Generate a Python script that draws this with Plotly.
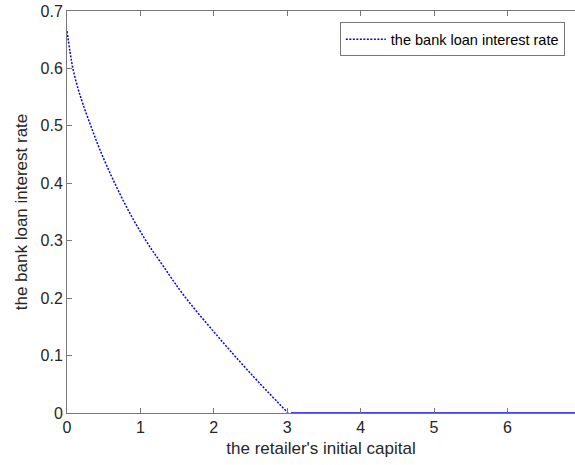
import plotly.graph_objects as go

# data
capital = [0, 0.04, 0.08, 0.15, 0.22, 0.33, 0.45, 0.64, 0.86, 1.09, 1.31, 1.59, 2.05, 2.5, 3.01]
rate = [0.665, 0.63, 0.60, 0.565, 0.537, 0.498, 0.458, 0.403, 0.347, 0.297, 0.256, 0.205, 0.134, 0.069, 0.0]
flat_capital = [3.05, 7.0]
flat_rate = [0.0, 0.0]

x_ticks = [0, 1, 2, 3, 4, 5, 6, 7]
y_ticks = [0, 0.1, 0.2, 0.3, 0.4, 0.5, 0.6, 0.7]

FONT = "Liberation Sans, Arial, sans-serif"
TXT = "#262626"
AX = "#777777"

fig = go.Figure()
fig.add_trace(go.Scatter(
    x=capital, y=rate, mode="lines", name="the bank loan interest rate",
    line=dict(color="blue", width=1.5, dash="2px,1.5px", shape="spline"),
))
fig.add_trace(go.Scatter(
    x=flat_capital, y=flat_rate, mode="lines", showlegend=False,
    line=dict(color="blue", width=1.5),
))

fig.update_layout(
    width=575, height=465,
    margin=dict(l=67, r=0, t=11, b=52),
    paper_bgcolor="white", plot_bgcolor="white",
    font=dict(family=FONT, size=16, color=TXT),
    legend=dict(
        x=0.98, y=0.972, xanchor="right", yanchor="top",
        bordercolor=AX, borderwidth=1, bgcolor="white",
        font=dict(size=14.5, color="black"),
        tracegroupgap=0, itemwidth=40,
    ),
    xaxis=dict(
        range=[0, 6.92], tickvals=x_ticks, ticks="inside", ticklen=5,
        tickcolor=AX, showline=True, linecolor=AX, linewidth=1,
        mirror="ticks", showgrid=False, zeroline=False,
        title=dict(text="the retailer's initial capital", font=dict(size=17), standoff=6),
        tickfont=dict(size=16),
    ),
    yaxis=dict(
        range=[0, 0.7], tickvals=y_ticks, ticks="inside", ticklen=5,
        tickcolor=AX, showline=True, linecolor=AX, linewidth=1,
        mirror=False, showgrid=False, zeroline=False,
        title=dict(text="the bank loan interest rate", font=dict(size=17), standoff=8),
        tickfont=dict(size=16),
    ),
)

fig.write_html("out.html")
